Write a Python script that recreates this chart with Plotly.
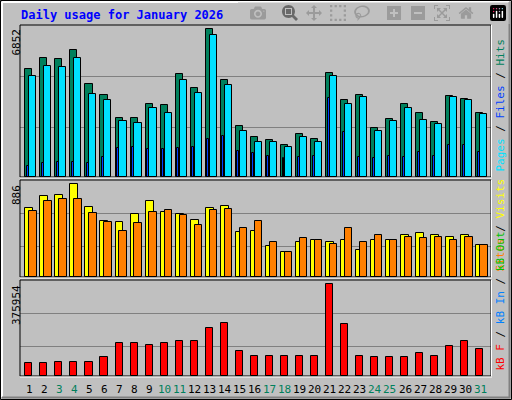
import plotly.graph_objects as go

days = list(range(1, 32))
day_labels = [str(d) for d in days]
weekend = [3, 4, 10, 11, 17, 18, 24, 25, 31]
hits = [4991,5503,5456,5875,4294,3782,2759,2759,3364,3317,4759,4108,6852,4480,2387,1876,1736,1504,2015,1783,4806,3550,3782,2294,2713,3364,2992,2573,3736,3596,2992]
files = [4666,5131,5084,5503,3829,3550,2620,2527,3178,2992,4480,3875,6573,4247,2155,1643,1643,1411,1876,1643,4666,3364,3689,2155,2620,3224,2666,2480,3689,3550,2945]
pages = [527,667,713,713,667,946,1364,1411,1318,1318,1364,1411,1783,1922,1225,1132,992,899,946,992,3643,2108,946,899,992,946,1178,992,1504,1504,1178]
visits = [656,771,781,886,666,531,522,598,723,618,598,541,656,675,426,435,301,243,330,349,330,349,262,349,358,397,416,406,387,397,310]
sites = [627,723,742,742,608,522,435,512,618,637,589,493,637,646,464,531,330,243,368,349,320,464,330,397,349,378,368,387,349,378,310]
kbytes = [54880,54880,59000,59000,59000,79580,137200,137200,128970,137200,145430,145430,194820,215400,104270,83690,83690,83690,83690,83690,375954,211290,83690,79580,79580,79580,96040,83690,124850,145430,112500]

W, H = 512, 400
L, R, T, B = 20, 21, 25, 24
PW, PH = W - L - R, H - T - B
def px(p): return (p - L) / PW
def py(q): return (H - B - q) / PH

ln = dict(color="black", width=1)
fig = go.Figure()
fig.add_bar(x=days, y=hits, offset=-0.51, width=0.47, marker=dict(color="#00805C", line=ln), yaxis="y3")
fig.add_bar(x=days, y=files, offset=-0.25, width=0.47, marker=dict(color="#00E0FF", line=ln), yaxis="y3")
fig.add_bar(x=days, y=pages, offset=-0.40, width=0.13, marker=dict(color="#0040FF", line=ln), yaxis="y3")
fig.add_bar(x=days, y=visits, offset=-0.51, width=0.53, marker=dict(color="#FFFF00", line=ln), yaxis="y2")
fig.add_bar(x=days, y=sites, offset=-0.25, width=0.49, marker=dict(color="#FF8000", line=ln), yaxis="y2")
fig.add_bar(x=days, y=kbytes, offset=-0.51, width=0.47, marker=dict(color="#FF0000", line=ln), yaxis="y")

def yax(dom, rng, grid):
    return dict(domain=dom, range=[0, rng], tickvals=grid, showticklabels=False,
                gridcolor="#808080", gridwidth=1, zeroline=False, fixedrange=True)

fig.update_layout(
    width=W, height=H, margin=dict(l=L, r=R, t=T, b=B),
    paper_bgcolor="#C0C0C0", plot_bgcolor="#C0C0C0",
    barmode="overlay", showlegend=False, bargap=0,
    xaxis=dict(range=[0.135, 31.47], showticklabels=False, showgrid=False, zeroline=False),
    yaxis=yax([0, py(280)], 393650, [122170, 256700]),
    yaxis2=yax([py(277), py(180)], 927, [291, 608]),
    yaxis3=yax([py(177), 1], 7051, [2319, 4685]),
    font=dict(family="DejaVu Sans Mono", size=11, color="black"),
)

shapes = [
    dict(type="rect", xref="paper", yref="paper", x0=px(0.5), x1=px(511.5), y0=py(399.5), y1=py(0.5), line=dict(color="black", width=1)),
    dict(type="line", xref="paper", yref="paper", x0=px(2), x1=px(509), y0=py(2), y1=py(2), line=dict(color="white", width=2)),
    dict(type="line", xref="paper", yref="paper", x0=px(2), x1=px(2), y0=py(2), y1=py(397), line=dict(color="white", width=2)),
    dict(type="line", xref="paper", yref="paper", x0=px(2), x1=px(510), y0=py(397.5), y1=py(397.5), line=dict(color="#808080", width=2)),
    dict(type="line", xref="paper", yref="paper", x0=px(509.5), x1=px(509.5), y0=py(2), y1=py(398), line=dict(color="#808080", width=2)),
]
for top, bot in [(25, 177), (180, 277), (280, 376)]:
    shapes.append(dict(type="rect", xref="paper", yref="paper", x0=0, x1=1, y0=py(bot), y1=py(top), line=dict(color="black", width=1)))
    shapes.append(dict(type="line", xref="paper", yref="paper", x0=px(491.5), x1=px(491.5), y0=py(bot), y1=py(top), line=dict(color="white", width=1)))
    shapes.append(dict(type="line", xref="paper", yref="paper", x0=0, x1=px(492), y0=py(bot + 1), y1=py(bot + 1), line=dict(color="white", width=1)))
fig.update_layout(shapes=shapes)

ann = [dict(text="<b>Daily usage for January 2026</b>", x=px(19), y=py(15), xref="paper", yref="paper",
            xanchor="left", yanchor="middle", showarrow=False, font=dict(color="#0000FF", size=12))]
for label, top in [("6852", 27), ("886", 183), ("375954", 283)]:
    ann.append(dict(text=label, x=px(16), y=py(top), xref="paper", yref="paper", textangle=-90,
                    xanchor="center", yanchor="top", showarrow=False, font=dict(size=11)))
def sp(t, c): return f"<span style='color:{c}'>{t}</span>"
sl = sp(" / ", "black")
legends = [
    (sp("Pages", "#00E0FF") + sl + sp("Files", "#0040FF") + sl + sp("Hits", "#00805C"), 177),
    (sp("Sites", "#FF8000") + sl + sp("Visits", "#FFFF00"), 277),
    (sp("kB F", "#FF0000") + sl + sp("kB In", "#0080FF") + sl + sp("kB Out", "#00C000"), 376),
]
for txt, bot in legends:
    ann.append(dict(text=txt, x=px(500), y=py(bot - 3), xref="paper", yref="paper", textangle=-90,
                    xanchor="center", yanchor="bottom", showarrow=False, font=dict(size=11)))
for d, lab in zip(days, day_labels):
    ann.append(dict(text=lab, x=d - 0.25, y=py(389), xref="x", yref="paper", showarrow=False,
                    xanchor="center", yanchor="middle",
                    font=dict(size=11, color="#00805C" if d in weekend else "black")))
fig.update_layout(annotations=ann)
fig.write_html("out.html", post_script="document.body.style.margin='0';document.body.style.overflow='hidden';")
